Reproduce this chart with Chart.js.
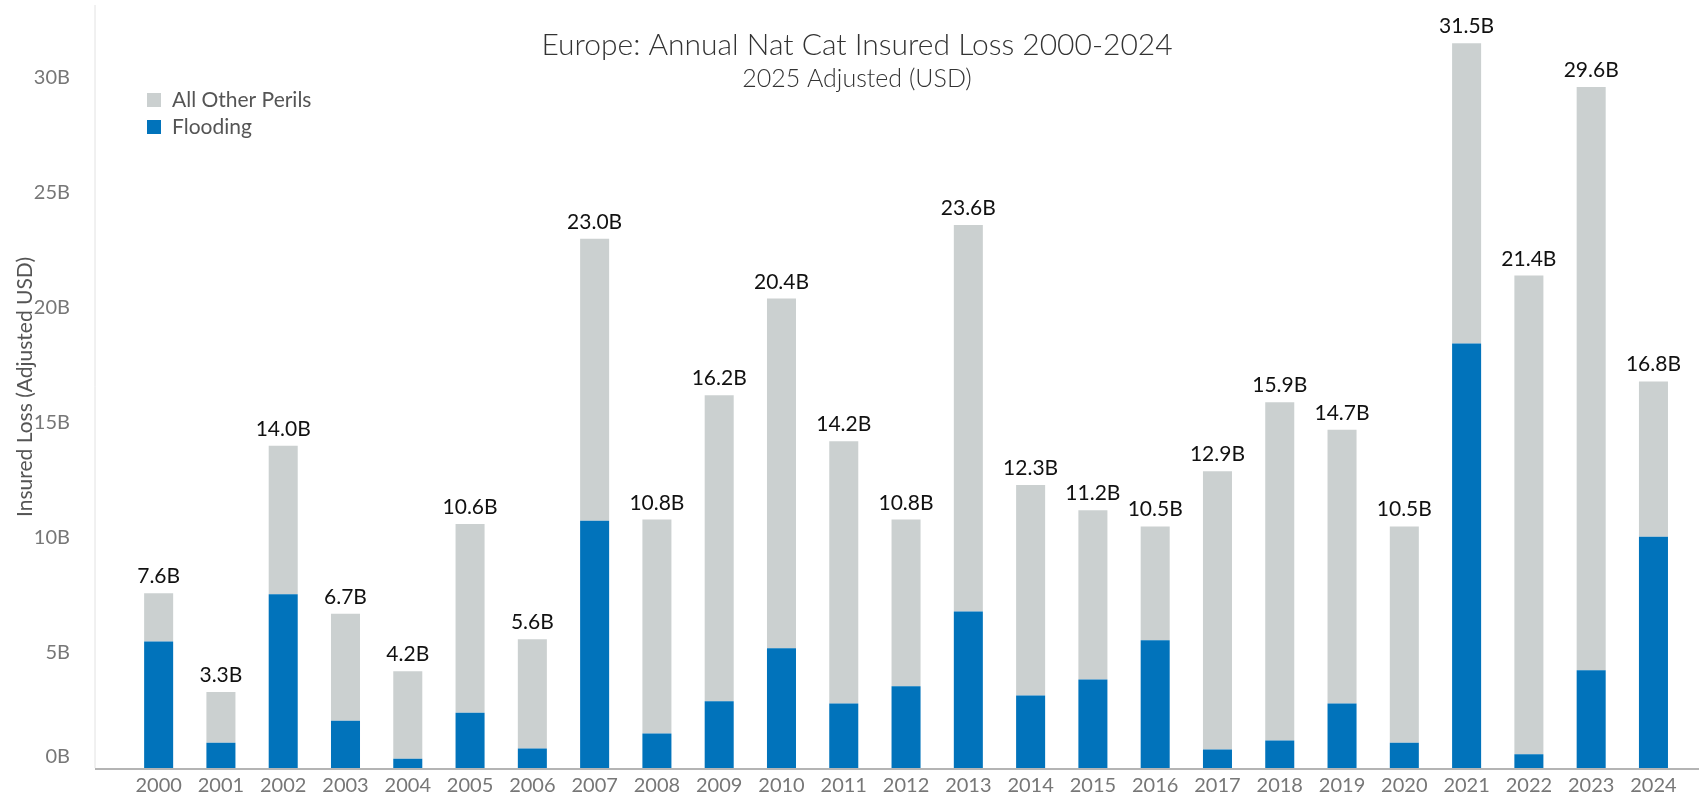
<!DOCTYPE html>
<html>
<head>
<meta charset="utf-8">
<script src="https://cdn.jsdelivr.net/npm/chart.js@4.4.1/dist/chart.umd.min.js"></script>
<style>
  html, body { margin: 0; padding: 0; background: #ffffff; }
  #wrap { width: 1699px; height: 805px; }
</style>
</head>
<body>
<div id="wrap"><canvas id="c" width="1699" height="805"></canvas></div>
<script>
const categories = ['2000','2001','2002','2003','2004','2005','2006','2007','2008','2009','2010','2011','2012','2013','2014','2015','2016','2017','2018','2019','2020','2021','2022','2023','2024'];
const totals = [7.6, 3.3, 14.0, 6.7, 4.2, 10.6, 5.6, 23.0, 10.8, 16.2, 20.4, 14.2, 10.8, 23.6, 12.3, 11.2, 10.5, 12.9, 15.9, 14.7, 10.5, 31.5, 21.4, 29.6, 16.8];
const flooding = [5.5, 1.1, 7.55, 2.05, 0.4, 2.4, 0.85, 10.75, 1.5, 2.9, 5.2, 2.8, 3.55, 6.8, 3.15, 3.85, 5.55, 0.8, 1.2, 2.8, 1.1, 18.45, 0.6, 4.25, 10.05];
const otherPerils = [2.1, 2.2, 6.45, 4.65, 3.8, 8.2, 4.75, 12.25, 9.3, 13.3, 15.2, 11.4, 7.25, 16.8, 9.15, 7.35, 4.95, 12.1, 14.7, 11.9, 9.4, 13.05, 20.8, 25.35, 6.75];
const yTicks = [0, 5, 10, 15, 20, 25, 30];
const titleText = 'Europe: Annual Nat Cat Insured Loss 2000-2024';
const subtitleText = '2025 Adjusted (USD)';
const yTitleText = 'Insured Loss (Adjusted USD)';

const FONT = 'Lato, "Open Sans", sans-serif';
const BLUE = '#0173BB';
const GRAY = '#CBD0D0';

const overlay = {
  id: 'overlay',
  beforeDatasetsDraw(chart) {
    const ctx = chart.ctx, ca = chart.chartArea;
    const axisX = ca.left - 32.5;
    ctx.save();
    ctx.strokeStyle = '#e2e2e2';
    ctx.lineWidth = 1;
    ctx.beginPath();
    ctx.moveTo(axisX, 5);
    ctx.lineTo(axisX, ca.bottom);
    ctx.stroke();
    ctx.strokeStyle = '#b4b4b4';
    ctx.lineWidth = 2;
    ctx.beginPath();
    ctx.moveTo(axisX, ca.bottom + 1);
    ctx.lineTo(chart.width, ca.bottom + 1);
    ctx.stroke();
    ctx.restore();
  },
  afterDraw(chart) {
    const ctx = chart.ctx;
    const y = chart.scales.y;
    ctx.save();
    // title
    ctx.textAlign = 'center';
    ctx.textBaseline = 'middle';
    ctx.fillStyle = '#333';
    ctx.font = '300 30px ' + FONT;
    ctx.fillText(titleText, 857, 45);
    ctx.font = '300 25px ' + FONT;
    ctx.fillText(subtitleText, 857, 79);
    // y ticks
    ctx.textAlign = 'right';
    ctx.fillStyle = '#777';
    ctx.font = '20px ' + FONT;
    yTicks.forEach(v => {
      let py = y.getPixelForValue(v);
      if (v === 0) py -= 11;
      ctx.fillText(v + 'B', 70, py);
    });
    // y title
    ctx.save();
    ctx.translate(25, 387);
    ctx.rotate(-Math.PI / 2);
    ctx.textAlign = 'center';
    ctx.fillStyle = '#555';
    ctx.font = '21px ' + FONT;
    ctx.fillText(yTitleText, 0, 0);
    ctx.restore();
    // data labels
    const meta = chart.getDatasetMeta(1);
    ctx.textAlign = 'center';
    ctx.textBaseline = 'alphabetic';
    ctx.fillStyle = '#111';
    ctx.font = '21px ' + FONT;
    totals.forEach((t, i) => {
      const px = meta.data[i].x;
      const py = y.getPixelForValue(t);
      ctx.fillText(t.toFixed(1) + 'B', px, py - 10);
    });
    // legend
    const items = [chart.data.datasets[1], chart.data.datasets[0]];
    const ly = [100, 127];
    ctx.textAlign = 'left';
    ctx.textBaseline = 'middle';
    ctx.font = '21px ' + FONT;
    items.forEach((ds, k) => {
      ctx.fillStyle = ds.backgroundColor;
      ctx.fillRect(147, ly[k] - 7, 14, 14);
      ctx.fillStyle = '#555';
      ctx.fillText(ds.label, 172, ly[k]);
    });
    ctx.restore();
  }
};

new Chart(document.getElementById('c'), {
  type: 'bar',
  data: {
    labels: categories,
    datasets: [
      { label: 'Flooding', data: flooding, backgroundColor: BLUE, stack: 's', categoryPercentage: 1, barPercentage: 0.466 },
      { label: 'All Other Perils', data: otherPerils, backgroundColor: GRAY, stack: 's', categoryPercentage: 1, barPercentage: 0.466 }
    ]
  },
  options: {
    responsive: false,
    devicePixelRatio: 1,
    animation: false,
    layout: { padding: { left: 127.5, right: 14.4, top: 8.7, bottom: 0 } },
    plugins: { legend: { display: false }, title: { display: false }, tooltip: { enabled: false } },
    scales: {
      x: {
        stacked: true,
        grid: { display: false, drawTicks: false },
        border: { display: false },
        ticks: { color: '#777', font: { family: FONT, size: 20 }, padding: 6, maxRotation: 0, autoSkip: false },
        afterFit(s) { s.height = 37; }
      },
      y: {
        stacked: true,
        min: 0, max: 33,
        grid: { display: false },
        border: { display: false },
        ticks: { display: false, stepSize: 5 },
        afterFit(s) { s.width = 0; }
      }
    }
  },
  plugins: [overlay]
});
</script>
</body>
</html>
